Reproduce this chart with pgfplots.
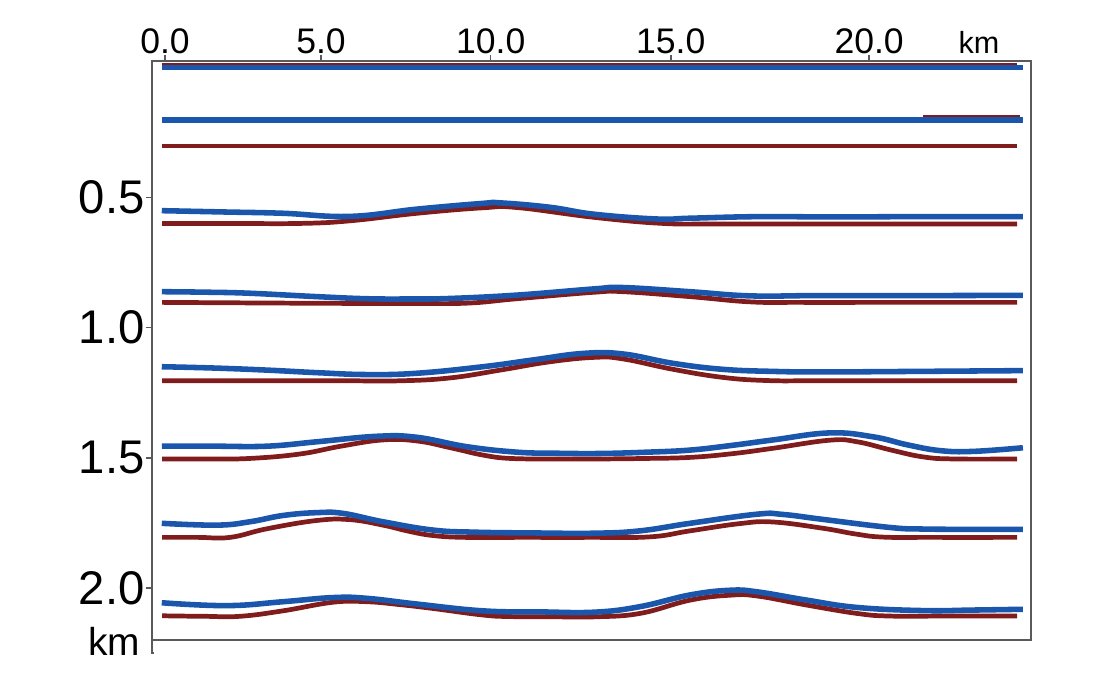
\documentclass[border=0pt]{standalone}
\usepackage{fontspec}
\setmainfont{Liberation Sans}
\usepackage{pgfplots}
\pgfplotsset{compat=1.18}

\definecolor{modelblue}{RGB}{26,86,172}
\definecolor{modelred}{RGB}{128,28,28}
\definecolor{framegray}{RGB}{90,90,90}

\begin{document}
\begin{tikzpicture}
\begin{axis}[
    at={(0,0)}, anchor=south west,
    scale only axis,
    width=316.44pt, height=208.44pt,
    xmin=-0.40, xmax=26.59,
    ymin=-0.0234, ymax=2.199,
    y dir=reverse,
    axis line style={framegray, line width=0.5pt},
    tick style={framegray, line width=0.5pt},
    tick align=outside,
    major tick length=2.2pt,
    xtick pos=top, xticklabel pos=top,
    ytick pos=left,
    xtick={0,4.79,10,15.53,21.62},
    xticklabels={0.0,5.0,10.0,15.0,20.0},
    ytick={0.5,1.0,1.5,2.0},
    yticklabels={0.5,1.0,1.5,2.0},
    xticklabel style={font=\fontsize{12.8}{13}\selectfont, yshift=-3.2pt},
    yticklabel style={font=\fontsize{17}{17}\selectfont, xshift=3pt},
    clip=false,
    red/.style={modelred, line width=1.7pt, smooth, tension=0.7},
    blue/.style={modelblue, line width=2.0pt, smooth, tension=0.7},
]
% --- reference model (red) ---
\addplot[red] coordinates {(-0.09,-0.006) (26.16,-0.006)};
\addplot[red] coordinates {(23.27,0.194) (26.25,0.194)};
\addplot[red] coordinates {(-0.09,0.303) (26.16,0.303)};
\addplot[red] coordinates {(-0.09,0.600) (2.0,0.600) (4.14,0.600) (5.68,0.590) (7.74,0.561)
    (9.76,0.540) (10.81,0.539) (13.2,0.577) (15.29,0.600) (17.0,0.602) (20,0.602) (23,0.602)
    (26.16,0.602)};
\addplot[red] coordinates {(-0.09,0.903) (2.5,0.905) (5.68,0.907) (7.5,0.907) (9.27,0.906)
    (10.81,0.889) (13.2,0.864) (14.06,0.862) (16.12,0.881) (17.96,0.901) (19.5,0.903)
    (22,0.903) (26.16,0.903)};
\addplot[red] coordinates {(-0.09,1.204) (3,1.204) (5.5,1.204) (7.22,1.204) (8.75,1.193)
    (10.29,1.163) (11.82,1.131) (13.2,1.114) (14.06,1.120) (15.60,1.160) (17.13,1.191)
    (18.48,1.203) (20,1.204) (23,1.204) (26.16,1.204)};
\addplot[red] coordinates {(-0.09,1.504) (1.3,1.504) (2.61,1.502) (4.14,1.485) (5.4,1.455)
    (6.69,1.431) (7.74,1.435) (8.8,1.462) (9.76,1.489) (10.6,1.502) (12,1.504) (13.36,1.504)
    (14.8,1.502) (16.12,1.498) (17.4,1.484) (18.67,1.463) (20.41,1.432) (21.25,1.438)
    (22.3,1.470) (23.27,1.496) (24.2,1.504) (26.16,1.504)};
\addplot[red] coordinates {(-0.09,1.805) (1.0,1.805) (2.0,1.805) (3.13,1.772) (4.67,1.740)
    (5.68,1.737) (6.69,1.758) (7.5,1.782) (8.23,1.798) (9.2,1.805) (11,1.805) (13,1.805)
    (14.89,1.803) (16.12,1.780) (17.66,1.752) (18.67,1.746) (20.20,1.770) (21.2,1.792)
    (22.05,1.804) (23.5,1.805) (26.16,1.805)};
\addplot[red] coordinates {(-0.09,2.106) (1.2,2.108) (2.30,2.108) (3.62,2.087) (5.16,2.054)
    (6.20,2.052) (7.2,2.063) (8.23,2.078) (9.76,2.103) (10.6,2.109) (12,2.110) (13.2,2.110)
    (14.58,2.097) (16.12,2.046) (17.35,2.027) (18.18,2.030) (19.71,2.065) (21.25,2.097)
    (22.26,2.107) (24,2.107) (26.16,2.107)};
% --- inverted model (blue) ---
\addplot[blue] coordinates {(-0.10,0.002) (26.34,0.002)};
\addplot[blue] coordinates {(-0.10,0.203) (26.34,0.203)};
\addplot[blue] coordinates {(-0.10,0.551) (1.8,0.556) (3.62,0.561) (5.68,0.573) (7.74,0.545)
    (9.76,0.523) (10.29,0.521) (11.82,0.538) (13.2,0.565) (15.11,0.583) (16.12,0.580)
    (18.18,0.574) (20.5,0.575) (23,0.574) (26.34,0.574)};
\addplot[blue] coordinates {(-0.10,0.862) (1.3,0.864) (2.61,0.868) (4.67,0.881) (6.20,0.889)
    (7.5,0.890) (8.75,0.888) (10.81,0.875) (13.2,0.851) (14.06,0.846) (16.12,0.862)
    (17.96,0.878) (20,0.877) (23,0.877) (26.34,0.876)};
\addplot[blue] coordinates {(-0.10,1.150) (1.5,1.155) (3.13,1.163) (4.7,1.173) (6.20,1.180)
    (7.74,1.175) (9.76,1.150) (11.30,1.124) (12.83,1.099) (14.06,1.101) (15.60,1.137)
    (17.13,1.160) (18.7,1.168) (20.2,1.170) (23,1.168) (26.34,1.165)};
\addplot[blue] coordinates {(-0.10,1.455) (1.5,1.455) (3.13,1.455) (4.67,1.438) (6.51,1.417)
    (7.74,1.421) (9.27,1.457) (10.81,1.478) (12,1.482) (13.36,1.483) (14.8,1.478)
    (16.12,1.470) (17.4,1.452) (18.67,1.431) (20.41,1.404) (21.74,1.419) (22.8,1.450)
    (23.80,1.472) (24.81,1.475) (26.34,1.461)};
\addplot[blue] coordinates {(-0.10,1.751) (1.60,1.758) (2.61,1.745) (3.62,1.721) (4.67,1.710)
    (5.47,1.713) (6.69,1.745) (8.23,1.777) (9.5,1.785) (11.3,1.788) (13.2,1.789)
    (14.58,1.780) (16.12,1.751) (18.18,1.716) (18.97,1.717) (20.20,1.736) (22.26,1.767)
    (23.27,1.773) (24.8,1.774) (26.34,1.774)};
\addplot[blue] coordinates {(-0.10,2.056) (1.90,2.067) (3.62,2.052) (5.16,2.036) (6.20,2.039)
    (7.74,2.061) (9.76,2.087) (11.5,2.091) (13.2,2.092) (14.58,2.071) (16.12,2.026)
    (17.35,2.008) (18.18,2.014) (19.71,2.046) (21.25,2.074) (23.27,2.086) (24.8,2.084)
    (26.34,2.081)};
\end{axis}
% unit labels and the short extension of the depth axis
\node[anchor=base, font=\fontsize{11}{11}\selectfont] at (297.7pt,211.3pt) {km};
\node[anchor=base, font=\fontsize{14}{14}\selectfont] at (-13.7pt,-5.4pt) {km};
\draw[framegray, line width=0.5pt] (0,0) -- (0,-4.7pt) -- (0.8pt,-4.7pt);
\pgfresetboundingbox
\path[use as bounding box] (-54.72pt,-14.4pt) rectangle (341.28pt,230.4pt);
\end{tikzpicture}
\end{document}
